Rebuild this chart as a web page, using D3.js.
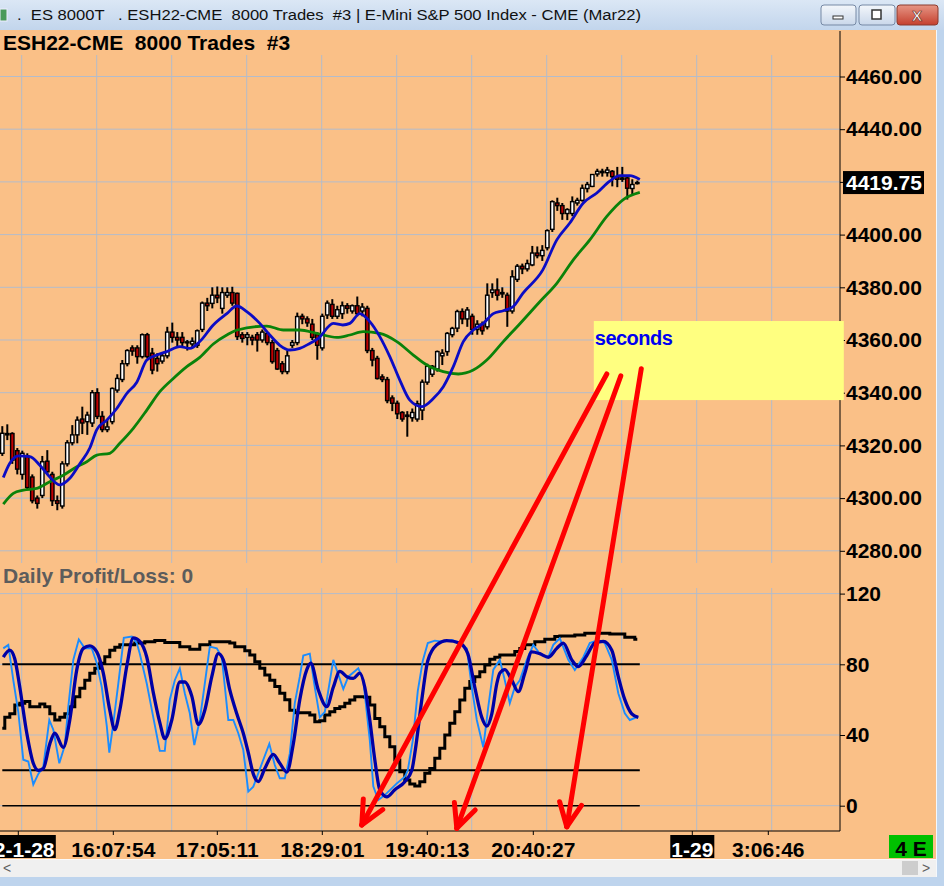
<!DOCTYPE html>
<html>
<head>
<meta charset="utf-8">
<style>
  html, body { margin: 0; padding: 0; background: #bcd3ec; }
  svg { display: block; }
  text { font-family: "Liberation Sans", Arial, sans-serif; white-space: pre; }
</style>
</head>
<body>
<script src="https://cdnjs.cloudflare.com/ajax/libs/d3/7.8.5/d3.min.js"></script>
<script>
// ---- data ----
const barOpen = [4317,4324.5,4324.5,4318,4309,4316,4308,4300,4301,4314,4309,4299,4297,4313,4321,4324,4330,4329,4328.5,4340,
  4331,4326,4329,4341,4345,4351,4357,4357,4353.7,4362,4355,4353,4352,4354,4363,4361,4361,4359,4358.5,4358,
  4364,4374,4373.9,4377,4372,4377,4378,4377.7,4362,4361,4361,4362,4360,4362.5,4359,4356,4351,4348,4358,4359,
  4369,4368,4366,4362,4357,4369.5,4373.5,4369,4370,4373,4371,4373,4371,4372,4356,4353,4346,4345,4338,4336,
  4332.5,4331,4330.5,4330,4333.4,4344,4347,4349,4354,4355.6,4362,4364.5,4370.8,4368,4369,4364,4366,4365,4378,4379,
  4378,4377,4371,4383,4388,4387,4388.5,4393,4392,4395,4402,4412,4411,4408,4408,4412,4413,4417.5,4418.3,4423,
  4424,4423.5,4424,4422,4421,4421.5,4417.5,4419.5];
const barHigh = [4327.3,4328,4325,4319,4318,4317,4309,4301,4316,4318.2,4310,4301,4314,4322,4327.7,4331,4334.7,4332.8,4341,4341.7,
  4333,4330,4342,4347,4352.4,4356.5,4358,4358,4362.5,4362.7,4357,4355,4355,4365,4366.6,4363,4363,4360,4361,4364,
  4374.6,4376,4380,4380.3,4380,4380,4380.2,4378,4363,4363,4362,4363,4364,4363,4360,4357,4352,4356,4360,4370.4,
  4370,4369,4368,4363,4370,4375,4375.5,4373,4374.6,4374,4373.5,4376.5,4374,4373,4357,4354,4347,4346,4339,4337,
  4333,4333,4334,4337,4345,4351,4350.5,4356,4356.5,4363,4365,4371.5,4372,4372.5,4370,4367.5,4367,4381.5,4381.5,4383.4,
  4380,4378,4386.5,4388.8,4389,4390.5,4395.7,4395.5,4396,4402,4413,4414,4412,4410,4414.5,4414,4419,4420,4423,4425,
  4425,4425.7,4424.5,4425.7,4425.7,4422,4421,4420.5];
const barLow = [4316,4322,4313,4309,4307,4303,4298,4296,4300,4309,4297,4295.4,4296,4312,4320,4320.8,4324.3,4324,4327,4330,
  4325,4325,4328,4340,4344,4350,4354,4351,4353,4353,4347,4348,4351,4353,4359,4357,4357,4356,4357,4357,
  4363,4371,4372,4374,4370,4376,4373,4360,4359,4358,4358,4355.6,4359,4358,4351,4348.6,4347,4347,4357,4358,
  4366,4365,4360,4352.5,4356,4368,4368,4368,4368,4370,4370,4369,4369,4355,4350,4345,4344,4336,4333,4330,
  4329,4323.3,4329,4329,4329.6,4343,4346,4348,4350.5,4354,4361,4363,4366,4365,4362,4362,4362,4364,4376,4375,
  4376,4365,4370,4382,4385,4386,4388,4391,4390,4394,4401,4409,4405.6,4405.5,4407,4411,4412.5,4416,4418,4422,
  4422,4422,4418.3,4418,4420,4413.3,4415.4,4419];
const barClose = [4324.6,4324,4314.4,4311,4317,4304,4299,4298,4313.8,4310,4299,4298,4313,4321,4324,4329.6,4328.5,4331.5,4340,4331,
  4326,4327,4341.6,4345.4,4351,4356,4355.8,4353.7,4362,4353.7,4348.6,4351,4354,4363,4361,4360,4359,4359.3,4359.5,4363.5,
  4374,4373,4377,4376,4378,4378,4374,4361.3,4360.6,4362,4360,4360,4363,4359,4351.8,4349,4348,4354,4359,4368.9,
  4368,4366.5,4361,4358,4369,4374,4369,4371.5,4373,4372,4373,4370,4372.5,4356,4352.4,4345.4,4345,4337,4336,4332,
  4330,4331.5,4332.5,4335.8,4344,4350,4350,4355.6,4355,4362.5,4364.4,4370.8,4368,4371.4,4364,4366,4363.5,4377,4379,4377,
  4377.5,4371,4384,4388,4387,4389,4393,4392,4394,4401.5,4412.5,4411,4408,4409.5,4412.5,4413,4417.6,4419,4422.8,4424,
  4423.5,4424.5,4422,4421,4421.5,4417.6,4419,4419.75];

// moving averages, [bar, price]
const maFast = [[0.2,4307.8],[1.5,4313.2],[3.2,4316],[5.5,4315.7],[7.5,4312.5],[9.5,4308],[11.5,4305],[13.5,4307.5],
  [15.5,4313],[17.5,4319],[18.9,4326],[20.9,4329.6],[22.9,4334],[24.9,4339.7],[26.9,4344],[28.9,4352.4],[30.9,4354.3],
  [32.9,4355.6],[35.5,4357.5],[37.5,4356.8],[39.5,4359.4],[42.2,4365.7],[44.9,4370],[46.9,4372.9],[48.9,4370.8],
  [51.5,4366.3],[53.5,4361.9],[55.5,4358],[57.5,4356.2],[59.5,4356.8],[61.5,4358.7],[63.2,4360.6],[66.2,4366.3],
  [68.1,4365.7],[69.5,4366.3],[71.5,4370],[73.5,4367],[75.5,4361.3],[77.5,4353.7],[79.5,4344.8],[81.5,4337.2],
  [83.9,4334.7],[86.2,4337.8],[88.2,4342.3],[90.2,4349.9],[92.2,4359.4],[94.2,4363.8],[96.2,4366.3],[98.2,4370],
  [100.2,4371.1],[102.2,4372.7],[104.1,4377.7],[108.1,4386.6],[110.9,4398],[113.5,4404.4],[116.2,4412],
  [118.9,4415.8],[121.5,4420.3],[123.5,4422.4],[125.5,4422.4],[127.5,4420.9]];
const maSlow = [[0.2,4297.7],[2.2,4301.8],[4.2,4303],[6.9,4303.7],[9.5,4306.2],[12.2,4308.7],[14.9,4311.9],[16.9,4313.8],
  [18.9,4316.3],[21.5,4317],[23.5,4320.8],[26.2,4326.5],[28.9,4333.4],[31.5,4340.4],[34.2,4345.4],[36.9,4349.9],
  [39.5,4353.4],[42.2,4358.5],[44.9,4361.9],[47,4363.8],[52.9,4365.3],[56.2,4363.8],[59.5,4363.8],[62.9,4362.5],
  [66.9,4361],[69.5,4361.9],[72.2,4363.2],[75.5,4362.5],[78.9,4359.4],[82.2,4354.3],[84.9,4350.5],[88.2,4348],
  [91.2,4347.1],[94.2,4348.6],[96.9,4352.4],[100.2,4359.4],[103.2,4365.5],[107.5,4374.5],[110.9,4381.5],
  [114.2,4390.4],[117.5,4398],[120.9,4406.9],[124.2,4413.3],[127.5,4416]];

// oscillator panel, [bar, value]
const oscFast = [[0.2,89],[1.2,91],[2.2,71],[3.2,53],[4.2,26],[5.2,25],[6.2,12],[7.2,18],[8.2,22],[9.4,48.5],[10.2,43],
  [11.4,24],[12.5,34],[13.2,56],[14.2,82.5],[15.3,94],[16.5,89],[17.9,89],[18.9,80.6],[19.9,67],[20.9,45],[21.4,30],
  [22.2,46.6],[23.2,69],[24.3,95],[25.9,95.7],[26.9,92],[27.5,86],[28.9,69],[30.2,50],[31.5,31],[32.5,31],[33.5,60],
  [34.5,71],[35.5,77.7],[36.5,63.6],[37.5,52.3],[38.4,34.3],[39.5,48.5],[40.5,69],[41.5,90],[42.9,89],[43.9,84],
  [45.2,48.5],[46.2,48.5],[47.2,41],[48.2,31.5],[49.2,8],[50.2,10.8],[52.2,26],[53.4,35],[54.5,23],[55.5,15.5],
  [56.5,15.5],[57.5,29.6],[58.5,58],[59.5,73],[60.2,85],[61.5,86],[62.5,67],[63.5,50],[64.5,53],[66.2,82.5],
  [68.2,66],[69.2,73],[71.2,77.7],[72.2,71],[73.5,37],[74.2,11],[75.2,3.2],[76.5,6],[78.9,12.6],[80.5,16.4],
  [81.1,20],[82.1,37],[83.1,65],[84.1,82],[85.1,92],[86.5,93.4],[88.2,92.8],[89.9,93.8],[91.5,92],[92.9,89],
  [93.9,67],[94.9,48.5],[96.2,33],[97.2,56],[98.2,77],[99.5,82.5],[100.5,71],[101.5,58],[102.5,67],[103.5,71],
  [104.9,82.5],[106.2,91],[107.5,86],[109.2,84],[110.2,91],[111.5,94.7],[113.2,82.5],[114.5,76.8],[116.2,84],
  [117.5,92],[119.2,93.8],[120.5,92],[121.9,82.5],[123.2,63.6],[124.5,52.3],[125.5,48.5],[127.2,50.4]];
const oscSlow = [[0.2,84],[1.5,88],[2.5,83],[3.5,67],[4.9,41],[6.2,24],[7.2,20],[8.2,21],[9.5,35],[10.5,41],[12.2,33],
  [13.5,48.5],[14.9,77],[16.2,89],[17.5,90.4],[18.9,87],[20.2,75],[21.5,54],[22.5,43],[23.5,54],[24.9,79],[26.2,95],
  [27.5,93],[28.9,84],[30.2,64],[31.5,47],[32.5,38],[33.9,48.5],[35.5,70],[36.5,70],[37.9,62],[39.2,46],[40.5,54],
  [41.9,73],[43.2,86],[44.2,82.5],[45.5,65.5],[46.9,52],[48.2,41],[49.2,30],[50.2,18],[51.2,13.6],[52.5,21],
  [54.2,29],[55.5,24],[56.9,19],[58.2,35],[59.5,60],[60.9,77],[61.7,80.6],[63.2,65.5],[64.9,56],[66.2,67],[67.5,76],
  [68.9,73],[70.2,72],[71.5,75],[72.5,67],[73.5,48.5],[74.5,26],[75.5,9],[76.9,5],[78.5,9],[80.5,13.6],[81.9,20],
  [82.6,31.5],[83.9,60],[85.1,82],[86.9,91],[88.9,93.4],[91.5,92],[93.1,86],[94.5,67],[95.9,50],[96.9,45],[97.9,52],
  [98.9,69],[99.5,75],[100.5,77],[101.9,71],[103.2,64.5],[104.5,75],[105.9,87],[107.5,86],[109.2,84],[110.9,89],
  [112.2,92],[113.9,82.5],[115.2,78.7],[116.9,85],[118.5,92],[120.2,93],[121.9,88],[123.2,73],[124.5,60],
  [125.9,52],[127.2,50]];
// one value per bar
const oscTrend = [43.8,50,52,57,58,59,56,56,57.5,56,52,48.5,50,52,56,61.7,66.4,71,75,77.7,
  80.6,84.3,88,89.6,91,91,91,92,92,92.8,92.8,93.4,93.4,92.3,92.3,92.3,90,90,88.5,88.5,
  91,91,92.8,92.8,92.8,92.8,92,90,90,87.7,85.3,81.5,77.7,74,71,67.4,63.6,60,54,52.6,
  52.6,52.6,51.3,47.5,48,51.3,53.2,55,56,58,59.8,61.7,61.7,61.3,57,49.4,44.7,39,33.4,25.8,
  19.2,14.5,12.3,11.1,13.6,18.3,21.1,26.8,32.5,40,46.6,53.2,59.8,66.4,70.2,73,75.8,79.6,82.8,84,
  85.3,85.3,85.3,87.2,89,91,91,92.8,92.8,94.2,94.2,95.7,96,96,96,96.6,96.6,97.5,97.5,97.5,
  97.5,97.5,97.2,97.2,97.2,95.3,95.3,94.2];

const priceTicks = [4280,4300,4320,4340,4360,4380,4400,4420,4440,4460];
const oscTicks = [0,40,80,120];
const oscLevels = [80,20,0];
const timeTickBars = [3.1,22.1,42.9,63.9,84.9,106.1,137.9,153.1];
const timeTickLabels = ['22-1-28','16:07:54','17:05:11','18:29:01','19:40:13','20:40:27','1-29','3:06:46'];
const timeTickIsDate = [true,false,false,false,false,false,true,false];

// annotation: yellow note and three arrows (start in price panel, tip in oscillator panel)
const noteBox = { bar0: 118.3, bar1: 168.3, top: 4367.2, bottom: 4337.2, label: 'seconds' };
const arrowStartBar = [120.9, 123.7, 127.8];
const arrowStartPrice = [4347.1, 4346.4, 4349.1];
const arrowEndBar = [71.9, 90.9, 112.9];
const arrowEndOsc = [-10.9, -12.8, -11.9];

const titleText = '.  ES 8000T   . ESH22-CME  8000 Trades  #3 | E-Mini S&P 500 Index - CME (Mar22)';
const chartTitle = 'ESH22-CME  8000 Trades  #3';
const pnlText = 'Daily Profit/Loss: 0';

// ---- drawing ----
const W = 944, H = 886;
const plotRight = 840;
const bg = '#fac087', gridColor = '#b3bccb';

const svg = d3.select('body').append('svg').attr('width', W).attr('height', H);
const defs = svg.append('defs');

function vGrad(id, c0, c1) {
  const g = defs.append('linearGradient').attr('id', id).attr('x1', 0).attr('y1', 0).attr('x2', 0).attr('y2', 1);
  g.append('stop').attr('offset', 0).attr('stop-color', c0);
  g.append('stop').attr('offset', 1).attr('stop-color', c1);
}
vGrad('tb', '#dbe7f5', '#c2d5ec');
vGrad('btn', '#f4f7fb', '#c9d7ea');
vGrad('btnx', '#e69585', '#c5402e');

// window frame + title bar
svg.append('rect').attr('width', W).attr('height', H).attr('fill', '#bed4ed');
svg.append('rect').attr('width', W).attr('height', 30).attr('fill', 'url(#tb)');
svg.append('rect').attr('x', 0).attr('y', 9).attr('width', 7).attr('height', 12).attr('fill', '#4a9a5a').attr('stroke', '#eef', 1);
svg.append('text').attr('x', 17).attr('y', 20).attr('font-family', '"Noto Sans", sans-serif')
  .attr('font-size', 15.5).attr('fill', '#111').attr('textLength', 624).attr('lengthAdjust', 'spacingAndGlyphs')
  .text(titleText);

const btns = [{ x: 821, w: 35, fill: 'url(#btn)', stroke: '#7689a5' },
  { x: 859, w: 36, fill: 'url(#btn)', stroke: '#7689a5' },
  { x: 897, w: 41, fill: 'url(#btnx)', stroke: '#8b3a2e' }];
svg.selectAll('rect.btn').data(btns).join('rect').attr('class', 'btn')
  .attr('x', d => d.x).attr('y', 5).attr('width', d => d.w).attr('height', 20).attr('rx', 3)
  .attr('fill', d => d.fill).attr('stroke', d => d.stroke);
svg.append('rect').attr('x', 833).attr('y', 16).attr('width', 10).attr('height', 3).attr('fill', '#fff').attr('stroke', '#333');
svg.append('rect').attr('x', 872).attr('y', 10).attr('width', 9).attr('height', 9).attr('fill', '#fff').attr('stroke', '#333').attr('stroke-width', 1.5);
svg.append('text').attr('x', 917).attr('y', 21).attr('text-anchor', 'middle').attr('font-size', 15)
  .attr('font-weight', 'bold').attr('fill', '#fff').attr('stroke', '#6a2a20').attr('stroke-width', 0.6).text('X');

// chart background
svg.append('rect').attr('x', 0).attr('y', 30).attr('width', 936).attr('height', 830).attr('fill', bg);

// scales
const x = d3.scaleLinear().domain([0, 127]).range([2.3, 637.3]);
const yP = d3.scaleLinear().domain([4280, 4460]).range([550.8, 76.5]);
const yO = d3.scaleLinear().domain([0, 120]).range([805.7, 593.6]);
const gridBars = d3.range(3.88, 160, 15);

// grids
const grid = svg.append('g').attr('stroke', gridColor).attr('stroke-width', 1);
grid.selectAll('line.gv1').data(gridBars).join('line')
  .attr('x1', d => x(d)).attr('x2', d => x(d)).attr('y1', 55).attr('y2', 563);
grid.selectAll('line.gh1').data(priceTicks).join('line').attr('class', 'gh1')
  .attr('x1', 0).attr('x2', plotRight).attr('y1', d => yP(d)).attr('y2', d => yP(d));
grid.selectAll('line.gv2').data(gridBars).join('line').attr('class', 'gv2')
  .attr('x1', d => x(d)).attr('x2', d => x(d)).attr('y1', 588).attr('y2', 831);
grid.selectAll('line.gh2').data(oscTicks).join('line').attr('class', 'gh2')
  .attr('x1', 0).attr('x2', plotRight).attr('y1', d => yO(d)).attr('y2', d => yO(d));

// titles
svg.append('text').attr('x', 3).attr('y', 50).attr('font-size', 21).attr('font-weight', 'bold').text(chartTitle);
svg.append('text').attr('x', 3).attr('y', 583).attr('font-size', 21).attr('font-weight', 'bold')
  .attr('fill', '#5c5c5c').text(pnlText);

// candles
const candles = svg.append('g');
const idx = d3.range(barClose.length);
candles.selectAll('line').data(idx).join('line')
  .attr('x1', i => x(i)).attr('x2', i => x(i))
  .attr('y1', i => yP(barHigh[i])).attr('y2', i => yP(barLow[i]))
  .attr('stroke', '#000').attr('stroke-width', 2);
candles.selectAll('rect').data(idx).join('rect')
  .attr('x', i => x(i) - 1.7).attr('width', 3.4)
  .attr('y', i => yP(Math.max(barOpen[i], barClose[i])))
  .attr('height', i => Math.max(1, Math.abs(yP(barOpen[i]) - yP(barClose[i]))))
  .attr('fill', i => barClose[i] >= barOpen[i] ? '#ffffff' : '#c00000')
  .attr('stroke', '#000').attr('stroke-width', 1.4);

// moving averages
const pLine = d3.line().x(d => x(d[0])).y(d => yP(d[1])).curve(d3.curveMonotoneX);
svg.append('path').attr('d', pLine(maSlow)).attr('fill', 'none').attr('stroke', '#0a820a').attr('stroke-width', 2.8);
svg.append('path').attr('d', pLine(maFast)).attr('fill', 'none').attr('stroke', '#0c0cc4').attr('stroke-width', 2.8);

// oscillator
svg.selectAll('line.lvl').data(oscLevels).join('line').attr('class', 'lvl')
  .attr('x1', x(0)).attr('x2', x(127.5)).attr('y1', d => yO(d)).attr('y2', d => yO(d))
  .attr('stroke', '#000').attr('stroke-width', d => d === 0 ? 1.4 : 2);
const oStep = d3.line().x((d, i) => x(i)).y(d => yO(d)).curve(d3.curveStep);
svg.append('path').attr('d', oStep(oscTrend)).attr('fill', 'none').attr('stroke', '#000').attr('stroke-width', 3);
const oSmooth = d3.line().x(d => x(d[0])).y(d => yO(d[1])).curve(d3.curveMonotoneX);
const oLin = d3.line().x(d => x(d[0])).y(d => yO(d[1]));
svg.append('path').attr('d', oLin(oscFast)).attr('fill', 'none').attr('stroke', '#1a8cff').attr('stroke-width', 1.9);
svg.append('path').attr('d', oSmooth(oscSlow)).attr('fill', 'none').attr('stroke', '#0000a6').attr('stroke-width', 3.3);

// axes
svg.append('line').attr('x1', plotRight).attr('x2', plotRight).attr('y1', 31).attr('y2', 831).attr('stroke', '#000');
svg.append('line').attr('x1', 0).attr('x2', plotRight).attr('y1', 831).attr('y2', 831).attr('stroke', '#000');

function styleAxis(g) {
  g.select('.domain').remove();
  g.selectAll('line').attr('stroke', '#000');
  g.selectAll('text').attr('font-size', 21).attr('font-weight', 'bold').attr('fill', '#000')
    .attr('font-family', '"Liberation Sans", Arial, sans-serif');
}
svg.append('g').attr('transform', `translate(${plotRight},0)`)
  .call(d3.axisRight(yP).tickValues(priceTicks).tickFormat(d3.format('.2f')).tickSize(5).tickPadding(1))
  .call(styleAxis);
svg.append('g').attr('transform', `translate(${plotRight},0)`)
  .call(d3.axisRight(yO).tickValues(oscTicks).tickSize(5).tickPadding(1))
  .call(styleAxis);

const xAxis = svg.append('g').attr('transform', 'translate(0,831)')
  .call(d3.axisBottom(x).tickValues(timeTickBars).tickFormat((d, i) => timeTickLabels[i]).tickSize(4).tickPadding(4))
  .call(styleAxis);
xAxis.selectAll('text').attr('dy', 0).attr('y', 26);
xAxis.selectAll('.tick').each(function (d, i) {
  if (!timeTickIsDate[i]) return;
  const t = d3.select(this).select('text').attr('fill', '#fff');
  const bb = t.node().getBBox();
  d3.select(this).insert('rect', 'text').attr('x', bb.x - 1).attr('y', 4).attr('width', bb.width + 2).attr('height', 23).attr('fill', '#000');
});

// last price box
const lastPrice = barClose[barClose.length - 1];
svg.append('rect').attr('x', 843).attr('y', yP(lastPrice) - 11.5).attr('width', 81).attr('height', 23).attr('fill', '#000');
svg.append('text').attr('x', 846).attr('y', yP(lastPrice)).attr('dy', '0.36em').attr('font-size', 21)
  .attr('font-weight', 'bold').attr('fill', '#fff').text(d3.format('.2f')(lastPrice));

// status box
svg.append('rect').attr('x', 889).attr('y', 835).attr('width', 44).attr('height', 23).attr('fill', '#00c000');
svg.append('text').attr('x', 911).attr('y', 856).attr('text-anchor', 'middle').attr('font-size', 21)
  .attr('font-weight', 'bold').text('4 E');

// note box + arrows
svg.append('rect').attr('x', x(noteBox.bar0)).attr('y', yP(noteBox.top))
  .attr('width', x(noteBox.bar1) - x(noteBox.bar0)).attr('height', yP(noteBox.bottom) - yP(noteBox.top))
  .attr('fill', '#ffff80');
svg.append('text').attr('x', x(noteBox.bar0) + 1).attr('y', yP(noteBox.top) + 24)
  .attr('font-family', '"Noto Sans", sans-serif').attr('font-size', 20).attr('font-weight', 'bold')
  .attr('fill', '#0000f0').attr('textLength', 78).text(noteBox.label);

const arrows = svg.append('g').attr('stroke', '#ff0000').attr('stroke-width', 5).attr('stroke-linecap', 'round');
arrowStartBar.forEach((b, k) => {
  const x0 = x(b), y0 = yP(arrowStartPrice[k]);
  const x1 = x(arrowEndBar[k]), y1 = yO(arrowEndOsc[k]);
  arrows.append('line').attr('x1', x0).attr('y1', y0).attr('x2', x1).attr('y2', y1);
  const back = Math.atan2(y0 - y1, x0 - x1);
  [-0.44, 0.44].forEach(a => {
    arrows.append('line').attr('x1', x1).attr('y1', y1)
      .attr('x2', x1 + 26 * Math.cos(back + a)).attr('y2', y1 + 26 * Math.sin(back + a));
  });
});

// scrollbar + frame
svg.append('rect').attr('x', 0).attr('y', 859).attr('width', 937).attr('height', 18).attr('fill', '#f0f0f0');
svg.append('line').attr('x1', 0).attr('x2', 937).attr('y1', 859.5).attr('y2', 859.5).attr('stroke', '#fafafa');
svg.append('rect').attr('x', 902).attr('y', 861).attr('width', 16).attr('height', 14).attr('fill', '#cdcdcd');
svg.append('text').attr('x', 3).attr('y', 873).attr('font-size', 14).attr('fill', '#606060').text('<');
svg.append('text').attr('x', 922).attr('y', 873).attr('font-size', 14).attr('fill', '#606060').text('>');
svg.append('line').attr('x1', 936.5).attr('x2', 936.5).attr('y1', 30).attr('y2', 877).attr('stroke', '#f4f8fc');
</script>
</body>
</html>
